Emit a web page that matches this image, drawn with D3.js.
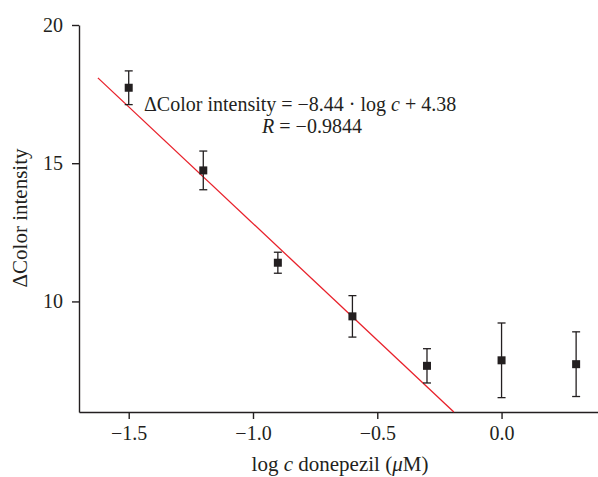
<!DOCTYPE html>
<html><head><meta charset="utf-8">
<script src="https://cdn.jsdelivr.net/npm/d3@7"></script>
<style>body{margin:0;background:#fff}svg{display:block}text{font-family:"Liberation Serif","Times New Roman",serif;fill:#231f20}</style>
</head><body><svg id="c" width="598" height="477"></svg>
<script>
const logC = [-1.5, -1.2, -0.9, -0.6, -0.3, 0.0, 0.3];
const intensity = [17.73, 14.74, 11.40, 9.46, 7.67, 7.87, 7.73];
const errors = [0.61, 0.70, 0.38, 0.75, 0.62, 1.35, 1.17];
const xTicks = [-1.5, -1.0, -0.5, 0.0];
const yTicks = [10, 15, 20];
const slope = -8.44, intercept = 4.38;
const fitRange = [-1.624, -0.192];

const svg = d3.select("#c");
const x = d3.scaleLinear().domain([-1.7, 0.388]).range([79, 598]);
const y = d3.scaleLinear().domain([6, 20]).range([412, 25]);
const ink = "#231f20";

const fmt = d3.format(".1f");
const gx = svg.append("g").attr("transform","translate(0,412)")
  .call(d3.axisBottom(x).tickValues(xTicks).tickFormat(fmt).tickSize(7).tickSizeOuter(0).tickPadding(7));
const gy = svg.append("g").attr("transform","translate(79,0)")
  .call(d3.axisLeft(y).tickValues(yTicks).tickSize(7).tickSizeOuter(0).tickPadding(9));
[gx, gy].forEach(g => {
  g.select(".domain").attr("stroke", ink).attr("stroke-width", 1.4);
  g.selectAll(".tick line").attr("stroke", ink).attr("stroke-width", 1.4);
  g.selectAll(".tick text").attr("font-size", 20).attr("font-family", "Liberation Serif").attr("fill", ink);
});

// fit line
svg.append("line")
  .attr("x1", x(fitRange[0])).attr("y1", y(slope*fitRange[0]+intercept))
  .attr("x2", x(fitRange[1])).attr("y2", y(slope*fitRange[1]+intercept))
  .attr("stroke", "#e8202a").attr("stroke-width", 1.3);

// error bars
const data = logC.map((v,i)=>({x:v, y:intensity[i], e:errors[i]}));
const eb = svg.append("g").attr("stroke", ink).attr("stroke-width", 1.3);
data.forEach(d => {
  eb.append("line").attr("x1", x(d.x)).attr("x2", x(d.x)).attr("y1", y(d.y-d.e)).attr("y2", y(d.y+d.e));
  eb.append("line").attr("x1", x(d.x)-4).attr("x2", x(d.x)+4).attr("y1", y(d.y-d.e)).attr("y2", y(d.y-d.e));
  eb.append("line").attr("x1", x(d.x)-4).attr("x2", x(d.x)+4).attr("y1", y(d.y+d.e)).attr("y2", y(d.y+d.e));
});
svg.append("g").selectAll("rect").data(data).join("rect")
  .attr("x", d=>x(d.x)-4).attr("y", d=>y(d.y)-4).attr("width", 8).attr("height", 8).attr("fill", ink);

// equation
const eq = svg.append("text").attr("x", 144).attr("y", 111).attr("font-size", 20);
eq.append("tspan").text("ΔColor intensity = −8.44 · log ");
eq.append("tspan").attr("font-style","italic").text("c");
eq.append("tspan").text(" + 4.38");
const r = svg.append("text").attr("x", 312).attr("y", 133).attr("font-size", 20).attr("text-anchor","middle");
r.append("tspan").attr("font-style","italic").text("R");
r.append("tspan").text(" = −0.9844");

// axis labels
svg.append("text").attr("transform","translate(27,218) rotate(-90)").attr("text-anchor","middle").attr("font-size", 21).text("ΔColor intensity");
const xl = svg.append("text").attr("x", 340).attr("y", 471).attr("text-anchor","middle").attr("font-size", 21);
xl.append("tspan").text("log ");
xl.append("tspan").attr("font-style","italic").text("c");
xl.append("tspan").text(" donepezil (");
xl.append("tspan").attr("font-style","italic").text("μ");
xl.append("tspan").text("M)");
</script></body></html>
